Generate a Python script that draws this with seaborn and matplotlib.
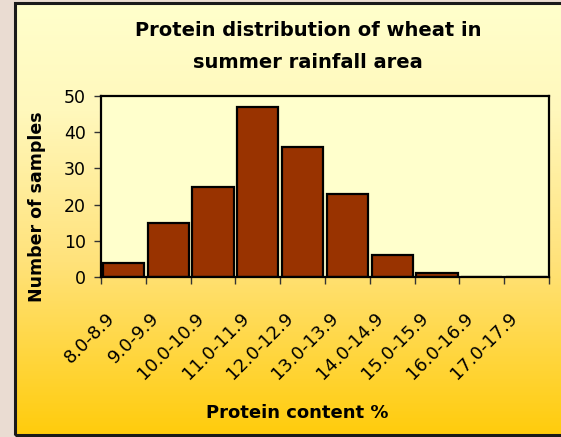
import numpy as np
import pandas as pd
import matplotlib
matplotlib.use("Agg")
import matplotlib.pyplot as plt
from matplotlib.colors import LinearSegmentedColormap
from matplotlib.patches import Rectangle
from matplotlib.transforms import ScaledTranslation
import seaborn as sns

# Data
ranges = ['8.0-8.9', '9.0-9.9', '10.0-10.9', '11.0-11.9', '12.0-12.9',
          '13.0-13.9', '14.0-14.9', '15.0-15.9', '16.0-16.9', '17.0-17.9']
samples = [4, 15, 25, 47, 36, 23, 6, 1, 0, 0]

sns.set_style("white")
plt.rcParams['font.family'] = ['DejaVu Sans']
plt.rcParams['text.color'] = 'black'
plt.rcParams['xtick.color'] = 'black'
plt.rcParams['ytick.color'] = 'black'

W, H = 561, 437
fig = plt.figure(figsize=(W / 100, H / 100), dpi=100)
fig.patch.set_facecolor('#eadcd2')

# yellow gradient panel behind the chart
px0, py0, px1, py1 = 15, 3, 600, 435
bg = fig.add_axes([px0 / W, 1 - py1 / H, (px1 - px0) / W, (py1 - py0) / H], zorder=0)
grad = LinearSegmentedColormap.from_list(
    'panel', [(0.0, '#ffffcc'), (0.25, '#fff8bc'), (0.6, '#ffe27a'), (1.0, '#ffcc0c')])
bg.imshow(np.linspace(0, 1, 256).reshape(-1, 1), aspect='auto', cmap=grad,
          extent=[0, 1, 0, 1])
bg.set_axis_off()
fig.patches.append(Rectangle((px0 / W, 1 - py1 / H), (px1 - px0) / W, (py1 - py0) / H,
                             transform=fig.transFigure, fill=False,
                             edgecolor='#1a1a1a', linewidth=2.2, zorder=1))

# plot area
left, top, right, bottom = 101, 96, 549, 277
ax = fig.add_axes([left / W, 1 - bottom / H, (right - left) / W, (bottom - top) / H], zorder=2)
ax.set_facecolor('#ffffcc')

df = pd.DataFrame({'range': ranges, 'samples': samples})
sns.barplot(data=df, x='range', y='samples', color='#993300', edgecolor='black',
            linewidth=1.6, width=0.92, saturation=1, ax=ax)

ax.set_xlim(-0.5, len(ranges) - 0.5)
ax.set_ylim(0, 50)
ax.set_yticks([0, 10, 20, 30, 40, 50])
ax.set_xlabel('')
ax.set_ylabel('')
for s in ax.spines.values():
    s.set_color('black')
    s.set_linewidth(1.6)

ax.tick_params(axis='y', direction='out', length=5, width=1, color='#333333',
               labelsize=12.5, pad=6, left=True)
ax.set_xticks(np.arange(len(ranges)))
ax.set_xticklabels(ranges, rotation=45, ha='right', va='top',
                   rotation_mode='anchor', fontsize=13)
ax.tick_params(axis='x', which='major', length=0, pad=23)
shift = ScaledTranslation(-18 / 100, 0, fig.dpi_scale_trans)
for lab in ax.get_xticklabels():
    lab.set_transform(lab.get_transform() + shift)
ax.set_xticks(np.arange(len(ranges) + 1) - 0.5, minor=True)
ax.tick_params(axis='x', which='minor', direction='out', length=5, width=1,
               color='#333333', bottom=True)

fig.text(308 / W, 1 - 31 / H, 'Protein distribution of wheat in', ha='center',
         va='center', fontsize=14, fontweight='bold')
fig.text(308 / W, 1 - 62 / H, 'summer rainfall area', ha='center',
         va='center', fontsize=14, fontweight='bold')
fig.text(297 / W, 1 - 413 / H, 'Protein content %', ha='center', va='center',
         fontsize=13, fontweight='bold')
fig.text(37 / W, 1 - 207 / H, 'Number of samples', ha='center', va='center',
         rotation=90, fontsize=12.5, fontweight='bold')

fig.savefig('out.png', dpi=100, facecolor=fig.get_facecolor())
